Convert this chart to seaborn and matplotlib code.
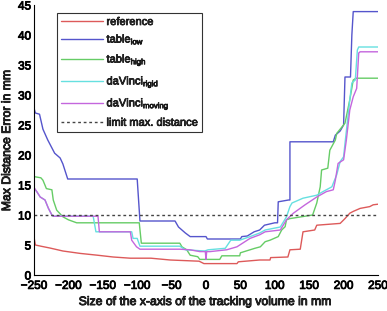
import matplotlib
matplotlib.use('Agg')
import matplotlib.pyplot as plt
import matplotlib.patheffects as pe
import seaborn as sns
import pandas as pd

# Data (x: axis size in mm, y: max distance error in mm)
ref_x = [-250, -248, -240, -227, -208, -183, -158, -135, -110, -80, -52, -10, -3, 45, 47, 78, 93, 94, 119, 122, 137, 141, 158, 161, 195, 202, 209, 214, 224, 238, 243, 250]
ref_y = [6.3, 5.0, 4.8, 4.5, 4.0, 3.6, 3.3, 3.0, 2.8, 2.8, 2.5, 2.3, 1.9, 1.9, 2.2, 2.5, 2.5, 2.9, 3.0, 4.2, 4.3, 7.2, 7.5, 8.3, 8.6, 9.4, 10.3, 10.6, 11.1, 11.4, 11.7, 11.8]

low_x = [-250, -248, -242, -237, -230, -220, -212, -208, -201, -100, -96, -45, -40, -30, -23, 0, 2, 50, 52, 60, 70, 78, 85, 100, 104, 105, 120, 122, 122, 185, 188, 195, 200, 202, 210, 212, 214, 250]
low_y = [27.8, 27.0, 26.8, 24.3, 22.5, 20.3, 19.5, 18.5, 16.0, 16.0, 9.0, 9.0, 8.0, 7.0, 6.4, 6.4, 6.0, 6.0, 6.4, 6.5, 7.2, 7.5, 8.3, 8.7, 8.7, 12.2, 12.5, 12.5, 22.2, 22.2, 23.3, 24.0, 25.0, 33.0, 33.0, 40.0, 43.9, 43.9]

high_x = [-250, -240, -237, -232, -224, -222, -217, -208, -200, -188, -97, -94, -38, -35, -28, -23, -12, -9, 20, 23, 49, 50, 71, 79, 86, 93, 105, 110, 115, 117, 122, 155, 161, 166, 168, 177, 180, 188, 190, 202, 209, 214, 218, 250]
high_y = [16.4, 16.2, 15.8, 14.4, 14.2, 12.5, 10.8, 9.7, 9.2, 8.7, 8.7, 5.3, 5.3, 4.7, 4.2, 3.3, 3.05, 2.6, 2.6, 3.2, 3.2, 3.7, 4.45, 4.7, 5.55, 5.8, 6.4, 7.5, 8.05, 9.2, 9.4, 10.0, 12.0, 14.7, 17.5, 17.8, 20.8, 22.5, 23.6, 25.3, 29.2, 32.5, 32.8, 32.8]

rigid_x = [-250, -246, -241, -234, -229, -224, -222, -164, -160, -108, -106, -100, -96, -38, -30, -2, 3, 28, 36, 49, 64, 78, 86, 108, 117, 122, 125, 141, 161, 170, 183, 185, 190, 195, 200, 202, 209, 212, 217, 220, 222, 250]
rigid_y = [14.4, 13.9, 13.0, 12.5, 11.1, 10.0, 9.8, 9.8, 7.2, 7.2, 6.1, 6.1, 4.8, 4.8, 4.2, 4.0, 4.2, 4.45, 5.8, 5.8, 6.4, 7.0, 7.5, 8.0, 9.7, 11.4, 12.0, 12.8, 13.3, 13.9, 14.7, 15.3, 16.7, 18.9, 19.7, 21.9, 29.2, 32.0, 32.5, 37.5, 38.0, 38.0]

moving_x = [-250, -246, -241, -234, -229, -224, -222, -157, -155, -110, -108, -101, -96, -38, -23, -9, -1, 0, 1, 6, 30, 45, 64, 78, 86, 108, 117, 127, 144, 161, 175, 185, 188, 192, 200, 204, 209, 214, 219, 222, 224, 250]
moving_y = [14.6, 13.9, 13.0, 12.5, 11.1, 10.0, 9.8, 9.8, 7.2, 7.2, 5.8, 4.7, 4.3, 4.3, 4.2, 3.9, 3.9, 2.6, 3.9, 3.9, 4.2, 4.7, 6.1, 6.7, 7.2, 7.5, 9.2, 10.3, 11.7, 13.0, 13.9, 14.2, 15.8, 18.6, 19.2, 22.5, 27.5, 29.7, 31.1, 37.0, 37.2, 37.2]

limit_x = [-250, 250]
limit_y = [10, 10]

x_ticks = [-250, -200, -150, -100, -50, 0, 50, 100, 150, 200, 250]
y_ticks = [0, 5, 10, 15, 20, 25, 30, 35, 40, 45]

series = [
    ('reference', ref_x, ref_y, '#dd5a5a'),
    (r'table$_\mathregular{low}$', low_x, low_y, '#5555cc'),
    (r'table$_\mathregular{high}$', high_x, high_y, '#66cc66'),
    (r'daVinci$_\mathregular{rigid}$', rigid_x, rigid_y, '#66e0e0'),
    (r'daVinci$_\mathregular{moving}$', moving_x, moving_y, '#c466dd'),
]

sns.set_style('white')
plt.rcParams['font.family'] = ['Liberation Sans', 'DejaVu Sans']
plt.rcParams['xtick.direction'] = 'in'
plt.rcParams['ytick.direction'] = 'in'

# thicken the regular font a bit, the reference text looks heavy but narrow
heavy = [pe.withStroke(linewidth=0.6, foreground='black')]

fig = plt.figure(figsize=(3.87, 3.11), dpi=100)
ax = fig.add_axes([34 / 387, 36 / 311, 344 / 387, 270 / 311])

for name, xs, ys, color in series:
    df = pd.DataFrame({'x': xs, 'y': ys})
    sns.lineplot(data=df, x='x', y='y', sort=False, estimator=None, color=color,
                 linewidth=1.0, label=name, ax=ax)

ax.plot(limit_x, limit_y, linestyle=(0, (2, 2)), color='#444444', linewidth=1.0,
        label='limit max. distance')

ax.set_xlim(-250, 250)
ax.set_ylim(0, 45)
ax.set_xticks(x_ticks)
ax.set_yticks(y_ticks)
ax.tick_params(axis='both', length=3, width=0.8, labelsize=8.5, colors='black')
ax.tick_params(axis='x', pad=3.5)
ax.tick_params(axis='y', pad=2)
for lbl in ax.get_xticklabels() + ax.get_yticklabels():
    lbl.set_path_effects(heavy)
ax.spines['top'].set_visible(False)
ax.spines['right'].set_visible(False)
for s in ['left', 'bottom']:
    ax.spines[s].set_color('black')
    ax.spines[s].set_linewidth(0.8)

ax.set_xlabel('Size of the x-axis of the tracking volume in mm', fontsize=8.8, labelpad=3,
              path_effects=heavy)
ax.set_ylabel('Max Distance Error in mm', fontsize=8.8, labelpad=3.5, path_effects=heavy)

leg = ax.legend(loc='upper left', bbox_to_anchor=(0.067, 0.97), fontsize=8, frameon=True,
                fancybox=False, edgecolor='black', handlelength=3.8, labelspacing=0.5,
                borderpad=0.35, handletextpad=0.3, borderaxespad=0)
leg.get_frame().set_linewidth(0.8)
for t in leg.get_texts():
    t.set_path_effects([pe.withStroke(linewidth=0.5, foreground='black')])

fig.savefig('out.png', dpi=100)
plt.close(fig)
